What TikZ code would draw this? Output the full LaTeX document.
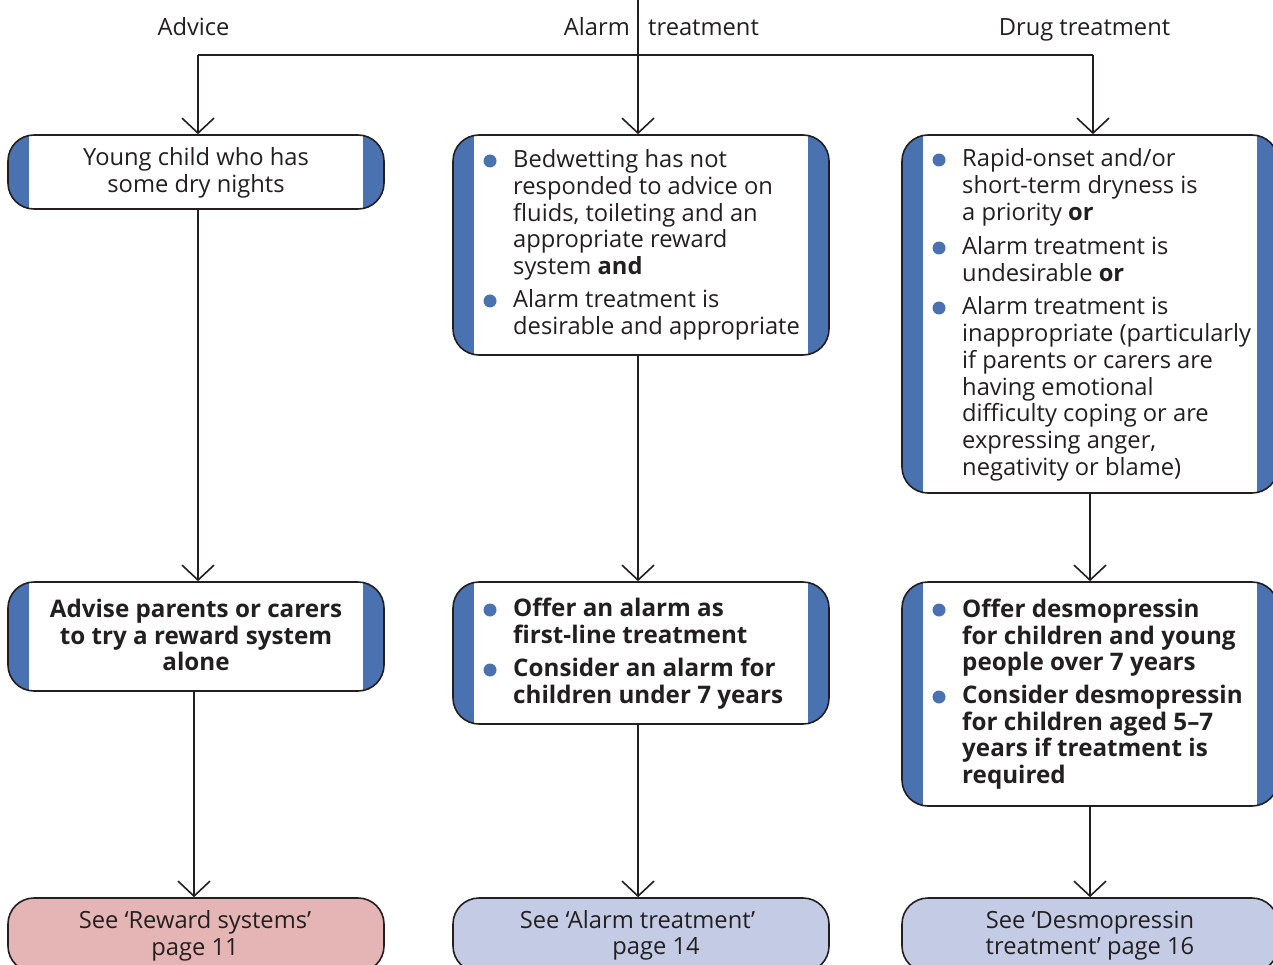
\documentclass[tikz,border=0pt]{standalone}
\usepackage{fontspec}
\setmainfont{Open Sans}
\usetikzlibrary{arrows.meta}
\definecolor{stripC}{HTML}{4A72B0}
\definecolor{pinkC}{HTML}{E5B5B5}
\definecolor{lbC}{HTML}{C3CCE4}
\definecolor{lineC}{HTML}{231F20}
\definecolor{textC}{HTML}{231F20}
\tikzset{
  box/.style={draw=lineC, line width=1.6pt, rounded corners=26pt, fill=white,
    minimum width=376pt, inner sep=0pt,
    path picture={
      \fill[stripC, sharp corners] (path picture bounding box.north west) rectangle ([xshift=21pt]path picture bounding box.south west);
      \fill[stripC, sharp corners] ([xshift=-21pt]path picture bounding box.north east) rectangle (path picture bounding box.south east);
    }},
  endbox/.style={draw=lineC, line width=1.6pt, rounded corners=26pt,
    minimum width=376pt, minimum height=74pt, inner sep=0pt},
  txt/.style={inner sep=0pt, anchor=base west, text=textC, font=\fontsize{23.7}{26.7}\selectfont},
  btxt/.style={txt, font=\fontsize{24.2}{26.7}\selectfont\bfseries},
  ctxt/.style={txt, anchor=base},
  cbtxt/.style={btxt, anchor=base},
  bullet/.style={circle, fill=stripC, minimum size=13pt, inner sep=0pt},
  conn/.style={draw=lineC, line width=1.6pt},
  arr/.style={conn, -{Straight Barb[length=15pt,width=32pt]}},
}
\begin{document}
\begin{tikzpicture}[x=1pt,y=-1pt]
\useasboundingbox (0,0) rectangle (1273,965);
\clip (0,0) rectangle (1273,965);
\fill[white] (0,0) rectangle (1273,965);

% boxes
\node[box, minimum height=74pt] (L1) at (196,172) {};
\node[box, minimum height=220pt] (M1) at (641,245) {};
\node[box, minimum height=358pt] (R1) at (1090,314) {};
\node[box, minimum height=109pt] (L2) at (196,636.5) {};
\node[box, minimum height=142pt] (M2) at (641,653) {};
\node[box, minimum height=224pt] (R2) at (1090,694) {};
\node[endbox, fill=pinkC] (L3) at (196,935) {};
\node[endbox, fill=lbC] (M3) at (641,935) {};
\node[endbox, fill=lbC] (R3) at (1090,935) {};

% headings
\node[ctxt] (hA) at (193.5,36) {Advice};
\node[txt, anchor=base east] (hB1) at (630,36) {Alarm};
\node[txt] (hB2) at (648,36) {treatment};
\node[ctxt] (hC) at (1084.5,36) {Drug treatment};

% connectors
\coordinate (top) at (638,0);
\coordinate (hl) at (198,55);
\coordinate (hr) at (1093,55);
\draw[conn] (hl) -- (hr);
\draw[arr] (hl) -- (L1.north -| hl);
\draw[arr] (top) -- (M1.north -| top);
\draw[arr] (hr) -- (R1.north -| hr);
\draw[arr] ([xshift=2pt]L1.south) -- ([xshift=2pt]L2.north);
\draw[arr] ([xshift=-2pt]L2.south) -- ([xshift=-2pt]L3.north);
\draw[arr] ([xshift=-3pt]M1.south) -- ([xshift=-3pt]M2.north);
\draw[arr] ([xshift=-3pt]M2.south) -- ([xshift=-3pt]M3.north);
\draw[arr] (R1.south) -- (R2.north);
\draw[arr] (R2.south) -- (R3.north);

% row 1 texts
\node[ctxt] (tL1) at (196,165.7) {\parbox[t]{360pt}{\centering Young child who has\\some dry nights}};

\node[bullet] (bM1a) at (490,161) {};
\node[txt] (tM1a) at (513,167.7) {\parbox[t]{300pt}{\raggedright Bedwetting has not\\responded to advice on\\fluids, toileting and an\\appropriate reward\\system \textbf{and}}};
\node[bullet] (bM1b) at (490,301) {};
\node[txt] (tM1b) at (513,308) {\parbox[t]{300pt}{\raggedright Alarm treatment is\\desirable and appropriate}};

\node[bullet] (bR1a) at (939,160) {};
\node[txt] (tR1a) at (962,166.7) {\parbox[t]{300pt}{\raggedright Rapid-onset and/or\\short-term dryness is\\a priority \textbf{or}}};
\node[bullet] (bR1b) at (939,248) {};
\node[txt] (tR1b) at (962,255) {\parbox[t]{300pt}{\raggedright Alarm treatment is\\undesirable \textbf{or}}};
\node[bullet] (bR1c) at (939,308) {};
\node[txt] (tR1c) at (962,315) {\parbox[t]{300pt}{\raggedright Alarm treatment is\\inappropriate (particularly\\if parents or carers are\\having emotional\\difficulty coping or are\\expressing anger,\\negativity or blame)}};

% row 2 texts
\node[cbtxt] (tL2) at (196,617.3) {\parbox[t]{360pt}{\centering Advise parents or carers\\to try a reward system\\alone}};

\node[bullet] (bM2a) at (490,610) {};
\node[btxt] (tM2a) at (513,616.7) {\parbox[t]{300pt}{\raggedright Offer an alarm as\\first-line treatment}};
\node[bullet] (bM2b) at (490,670) {};
\node[btxt] (tM2b) at (513,676.7) {\parbox[t]{300pt}{\raggedright Consider an alarm for\\children under 7 years}};

\node[bullet] (bR2a) at (939,610) {};
\node[btxt] (tR2a) at (962,617.3) {\parbox[t]{300pt}{\raggedright Offer desmopressin\\for children and young\\people over 7 years}};
\node[bullet] (bR2b) at (939,697) {};
\node[btxt] (tR2b) at (962,703.3) {\parbox[t]{300pt}{\raggedright Consider desmopressin\\for children aged 5–7\\years if treatment is\\required}};

% row 3 texts
\node[ctxt] (tL3) at (195,928.3) {\parbox[t]{360pt}{\centering See ‘Reward systems’\\page 11}};
\node[ctxt] (tM3) at (637.5,928) {\parbox[t]{360pt}{\centering See ‘Alarm treatment’\\\hspace*{37pt}page 14}};
\node[ctxt] (tR3) at (1090,928) {\parbox[t]{360pt}{\centering See ‘Desmopressin\\treatment’ page 16}};
\end{tikzpicture}
\end{document}
